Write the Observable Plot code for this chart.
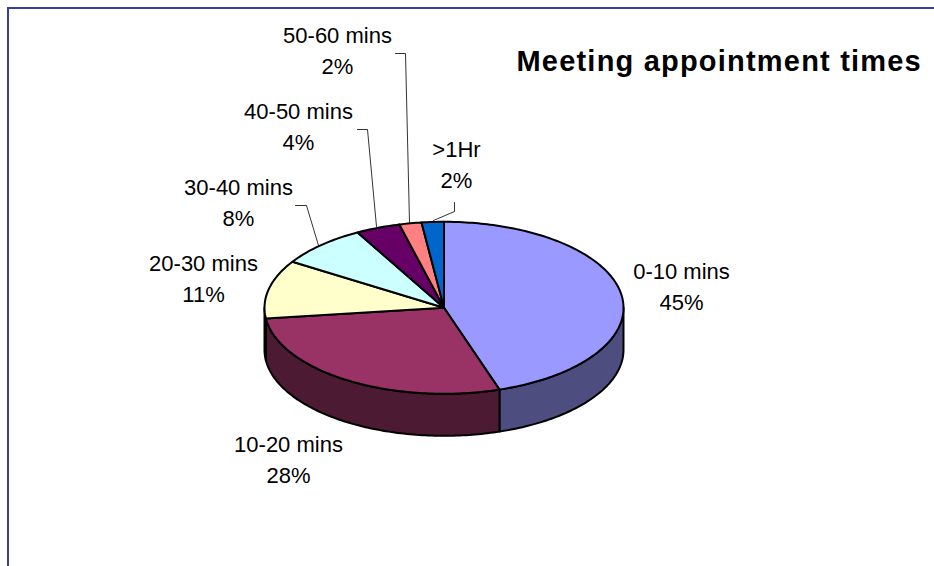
<!DOCTYPE html>
<html>
<head>
<meta charset="utf-8">
<style>
  html, body { margin: 0; padding: 0; background: #fff; overflow: hidden; }
  #frame { position: absolute; left: 7px; top: 7px; width: 927px; height: 559px;
           border-top: 2px solid #3b3ba6; border-left: 2px solid #3b3ba6; box-sizing: border-box; }
  #chart { position: absolute; left: 0; top: 0; }
</style>
<script src="https://cdn.jsdelivr.net/npm/d3@7"></script>
<script src="https://cdn.jsdelivr.net/npm/@observablehq/plot@0.6"></script>
</head>
<body>
<div id="frame"></div>
<div id="chart"></div>
<script>
// Share of meetings by appointment length
const categories = ["0-10 mins", "10-20 mins", "20-30 mins", "30-40 mins", "40-50 mins", "50-60 mins", ">1Hr"];
const shares = [45, 28, 11, 8, 4, 2, 2];
const topColors = ["#9999ff", "#993366", "#ffffcc", "#ccffff", "#660066", "#ff8080", "#0066cc"];
const sideColors = ["#4d4d80", "#4d1a33", "#808066", "#668080", "#330033", "#804040", "#003366"];

// Where each label sits: centre x and the baseline of its first line
const labelX = [681, 288, 203, 238, 298, 337, 456];
const labelBaseline = [278, 451, 270, 194, 118, 42, 156];

// Leader lines, keyed by category index
const leaders = [
  {i: 3, path: [[295, 205], [306, 205], [318, 245]]},
  {i: 4, path: [[357, 129], [367, 129], [376, 226]]},
  {i: 5, path: [[395, 53], [405, 53], [409, 222]]},
  {i: 6, path: [[454, 202], [454, 211], [433, 220]]}
];

// Tilted disc geometry
const cx = 443.5, cy = 307.3, rx = 179.5, ry = 86, depth = 42;
const lineGap = 31;

const rim = (a, dy = 0) => ({
  x: cx + rx * Math.sin(a),
  y: cy - ry * Math.cos(a) + dy
});

// Angles run clockwise from twelve o'clock
const arcs = d3.pie().sort(null)(shares);

function arcPoints(a0, a1, dy = 0) {
  const n = Math.max(2, Math.ceil((a1 - a0) / (Math.PI / 180)));
  return d3.range(n + 1).map((k) => rim(a0 + (a1 - a0) * k / n, dy));
}

// Top faces: wedge from the centre out along the rim and back
const topFaces = arcs.flatMap((arc, i) => {
  const pts = [{x: cx, y: cy}, ...arcPoints(arc.startAngle, arc.endAngle), {x: cx, y: cy}];
  return pts.map((p) => ({...p, key: i, color: topColors[i]}));
});

// Side walls exist only on the near half of the rim
const sideFaces = arcs.flatMap((arc, i) => {
  const a0 = Math.max(arc.startAngle, Math.PI / 2);
  const a1 = Math.min(arc.endAngle, 3 * Math.PI / 2);
  if (a1 <= a0) return [];
  const upper = arcPoints(a0, a1);
  const lower = arcPoints(a0, a1, depth).reverse();
  return [...upper, ...lower, upper[0]].map((p) => ({...p, key: i, color: sideColors[i]}));
});

const leaderPoints = leaders.flatMap(({i, path}) => path.map(([x, y]) => ({x, y, key: i})));

const labelRows = categories.flatMap((c, i) => [
  {x: labelX[i], y: labelBaseline[i], text: c},
  {x: labelX[i], y: labelBaseline[i] + lineGap, text: `${shares[i]}%`}
]);

const font = "'Liberation Sans', Arial, sans-serif";
const chartTitle = "Meeting appointment times";

const chart = Plot.plot({
  width: 934,
  height: 566,
  margin: 0,
  x: {domain: [0, 934], range: [0, 934], axis: null},
  y: {domain: [0, 566], range: [0, 566], axis: null},
  color: {type: "identity"},
  style: {background: "transparent", fontFamily: font},
  marks: [
    Plot.line(leaderPoints, {x: "x", y: "y", z: "key", stroke: "#000", strokeWidth: 0.8}),
    Plot.line(sideFaces, {x: "x", y: "y", z: "key", fill: "color", stroke: "#000", strokeWidth: 2, strokeLinejoin: "round"}),
    Plot.line(topFaces, {x: "x", y: "y", z: "key", fill: "color", stroke: "#000", strokeWidth: 2, strokeLinejoin: "round"}),
    Plot.text(labelRows, {x: "x", y: "y", text: "text", fill: "#000", fontSize: 22, lineAnchor: "bottom", textAnchor: "middle"}),
    Plot.text([chartTitle], {x: () => 516, y: () => 70, text: (d) => d, fill: "#000", fontSize: 29, fontWeight: "bold", lineAnchor: "bottom", textAnchor: "start"})
  ]
});

// The heading is set slightly wide
d3.select(chart).selectAll("text")
  .filter(function () { return this.textContent === chartTitle; })
  .style("letter-spacing", "1.2px");

document.getElementById("chart").appendChild(chart);
</script>
</body>
</html>
